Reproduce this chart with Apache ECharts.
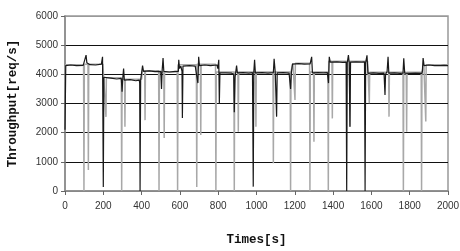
<!DOCTYPE html>
<html>
<head>
<meta charset="utf-8">
<script src="https://cdn.jsdelivr.net/npm/echarts@6/dist/echarts.min.js"></script>
<style>
html,body{margin:0;padding:0;background:#fff;}
#chart{width:460px;height:251px;}
</style>
</head>
<body>
<div id="chart"></div>
<script>
// X axis ticks (time, s) and Y axis ticks (throughput, req/s)
var xTicks = [0, 200, 400, 600, 800, 1000, 1200, 1400, 1600, 1800, 2000];
var yTicks = [0, 1000, 2000, 3000, 4000, 5000, 6000];

// Dark trace: [time s, throughput req/s]
var darkTrace = [
  [0,2100],[4,4300],[30,4320],[60,4300],[95,4310],
  [100,4300],[110,4660],[114,4400],[130,4330],[160,4320],[190,4350],
  [196,4600],[200,140],[203,3900],[205,3850],[240,3870],[270,3840],[294,3860],
  [298,3400],[302,3900],[306,4200],[310,3800],[340,3820],[370,3780],[388,3800],
  [390,3700],[392,0],[395,3800],[405,4300],[410,4100],[440,4120],[470,4090],[500,4100],
  [504,3500],[507,4100],[512,4560],[516,4100],[545,4080],[575,4100],[592,4100],
  [594,4500],[598,4200],[605,4280],[611,4100],[613,2500],[616,4280],[650,4300],[680,4280],[690,4300],
  [694,3700],[698,4600],[702,4300],[730,4320],[760,4300],[794,4320],
  [798,4200],[803,4500],[806,3010],[809,4050],[840,4050],[870,4040],[879,4050],
  [881,4000],[884,2700],[888,3900],[896,4300],[900,4050],[930,4060],[960,4040],[979,4060],
  [981,4100],[983,150],[986,4100],[990,4500],[994,4050],[1030,4060],[1060,4040],[1088,4060],
  [1092,4530],[1098,4050],[1103,4000],[1105,2550],[1108,4050],[1140,4060],[1170,4040],[1175,4050],
  [1178,3500],[1182,4050],[1188,4350],[1220,4370],[1250,4350],[1280,4360],
  [1283,4400],[1288,4600],[1292,4050],[1320,4060],[1350,4050],[1370,4060],
  [1372,4050],[1376,3700],[1380,4600],[1385,4420],[1420,4430],[1450,4410],[1468,4420],
  [1471,0],[1474,4400],[1480,4660],[1484,4400],[1488,2200],[1491,4420],[1520,4430],[1550,4420],[1564,4430],
  [1567,0],[1570,4400],[1577,4650],[1582,4030],[1610,4050],[1640,4030],[1666,4040],
  [1668,4000],[1671,3290],[1674,4000],[1682,4100],[1687,4600],[1691,4040],[1720,4050],[1750,4030],[1765,4040],
  [1769,4550],[1774,4040],[1800,4030],[1830,4040],[1864,4030],
  [1866,4100],[1870,4560],[1875,4300],[1900,4320],[1930,4300],[1960,4300],[1980,4310],[2000,4300]
];

// Light trace: [time s, throughput req/s]
var lightTrace = [
  [0,4330],[97,4330],[99,0],[101,4350],[120,4350],[122,720],[124,4350],[198,4350],
  [202,3880],[212,3880],[214,2540],[216,3880],[294,3880],[296,0],[298,3830],[311,3830],[313,2200],[315,3830],
  [400,3830],[404,4120],[416,4120],[418,2430],[420,4120],[489,4120],[491,0],[493,4080],[516,4080],[518,1820],[520,4080],
  [586,4080],[588,0],[590,4330],[686,4330],[688,140],[690,4350],[707,4350],[709,1920],[711,4350],
  [786,4350],[788,0],[790,4080],[882,4080],[884,0],[886,4080],[903,4080],[905,2030],[907,4080],
  [995,4080],[997,2200],[999,4080],[1086,4080],[1088,950],[1090,4080],[1176,4080],[1178,0],[1180,4080],
  [1190,4380],[1199,4380],[1201,3120],[1203,4380],[1277,4380],[1279,0],[1281,4080],[1298,4080],[1300,1690],[1302,4080],
  [1373,4080],[1375,0],[1377,4450],[1394,4450],[1396,2490],[1398,4450],[1486,4450],[1488,2200],[1490,4450],
  [1580,4450],[1583,4070],[1587,4070],[1589,3010],[1591,4070],[1690,4070],[1692,2550],[1694,4070],
  [1765,4070],[1767,0],[1769,4070],[1782,4070],[1784,2030],[1786,4070],[1860,4070],[1862,0],[1864,4070],
  [1874,4330],[1882,4330],[1884,2380],[1886,4330],[2000,4330]
];

var chart = echarts.init(document.getElementById('chart'), null, {renderer: 'canvas'});
var labelFont = {color: '#333', fontSize: 10, fontFamily: 'Liberation Sans, Arial, sans-serif'};
var nameFont = {color: '#111', fontSize: 12.5, fontWeight: 'bold', fontFamily: 'Liberation Mono, DejaVu Sans Mono, monospace'};
function plain(v) { return String(v); }

chart.setOption({
  animation: false,
  backgroundColor: '#fff',
  grid: {left: 65, right: 12, top: 16, bottom: 60, containLabel: false, outerBoundsMode: 'none',
         show: true, borderColor: '#999', borderWidth: 1.5, backgroundColor: 'transparent'},
  xAxis: {
    type: 'value', min: xTicks[0], max: xTicks[xTicks.length - 1], interval: 200,
    name: 'Times[s]', nameLocation: 'middle', nameGap: 42, nameTextStyle: nameFont,
    axisLine: {show: true, onZero: false, lineStyle: {color: '#888', width: 1.5}},
    axisTick: {show: true, length: 4, lineStyle: {color: '#666'}},
    axisLabel: Object.assign({margin: 10, formatter: plain}, labelFont),
    splitLine: {show: false}
  },
  yAxis: {
    type: 'value', min: yTicks[0], max: yTicks[yTicks.length - 1], interval: 1000,
    name: 'Throughput[req/s]', nameLocation: 'middle', nameGap: 46, nameTextStyle: nameFont,
    axisLine: {show: true, lineStyle: {color: '#888', width: 1.5}},
    axisTick: {show: true, length: 4, lineStyle: {color: '#666'}},
    axisLabel: Object.assign({margin: 7, formatter: plain}, labelFont),
    splitLine: {show: true, lineStyle: {color: ['#888', '#111', '#111', '#111', '#111', '#111', '#999'], width: 1}}
  },
  series: [
    {type: 'line', data: lightTrace, showSymbol: false, symbol: 'none', lineStyle: {color: '#a8a8a8', width: 1.5}, z: 2},
    {type: 'line', data: darkTrace, showSymbol: false, symbol: 'none', lineStyle: {color: '#1a1a1a', width: 1.2}, z: 3}
  ]
});
</script>
</body>
</html>
